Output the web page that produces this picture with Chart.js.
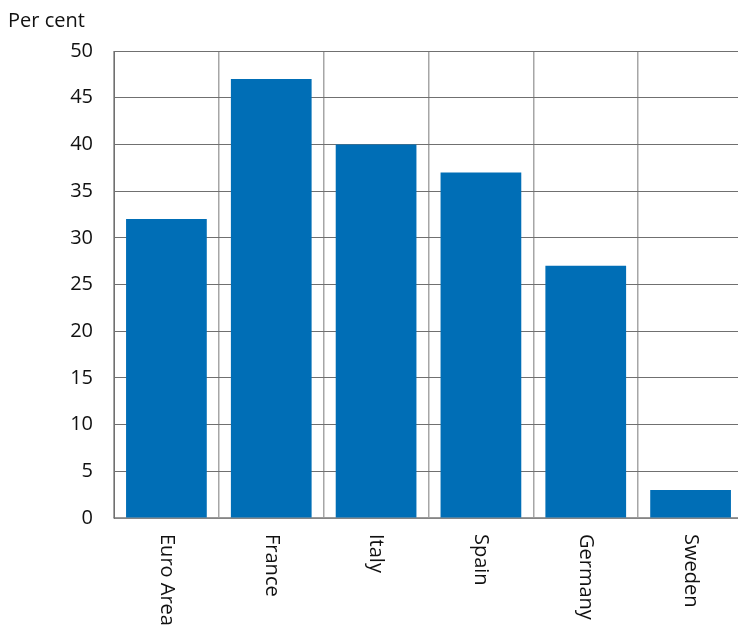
<!DOCTYPE html>
<html>
<head>
<meta charset="utf-8">
<script src="https://cdn.jsdelivr.net/npm/chart.js@4/dist/chart.umd.min.js"></script>
<style>
html,body{margin:0;padding:0;background:#fff;overflow:hidden;}
#wrap{position:absolute;left:0;top:0;width:743px;height:628px;}
</style>
</head>
<body>
<div id="wrap"><canvas id="c"></canvas></div>
<script>
// data
const countries=['Euro Area','France','Italy','Spain','Germany','Sweden'];
const share=[32,47,40,37,27,3];
const yTicks=[0,5,10,15,20,25,30,35,40,45,50];

const FONT='"Open Sans", "Liberation Sans", sans-serif';

// x labels read top to bottom, so draw them ourselves
const vertLabels={
  id:'vertLabels',
  afterDraw(chart){
    const {ctx,scales:{x},chartArea}=chart;
    ctx.save();
    ctx.fillStyle='#111';
    ctx.font='20px '+FONT;
    ctx.textAlign='left';
    ctx.textBaseline='middle';
    countries.forEach((lab,i)=>{
      const px=x.getPixelForValue(i);
      ctx.save();
      ctx.translate(px,chartArea.bottom+16);
      ctx.rotate(Math.PI/2);
      ctx.fillText(lab,0,0);
      ctx.restore();
    });
    // unit label
    ctx.fillText('Per cent',8,21);
    ctx.restore();
  }
};

new Chart(document.getElementById('c'),{
  type:'bar',
  data:{labels:countries,datasets:[{data:share,backgroundColor:'#006eb6',borderWidth:0,
    categoryPercentage:1,barPercentage:0.77}]},
  options:{
    responsive:true,maintainAspectRatio:false,animation:false,
    layout:{padding:{top:51,left:0,right:0,bottom:0}},
    plugins:{legend:{display:false},tooltip:{enabled:false}},
    scales:{
      x:{
        grid:{offset:true,color:'#a6a6a6',lineWidth:1.5,drawTicks:false},
        border:{color:'#999',width:1.5},
        ticks:{display:false},
        afterFit:s=>{s.height=110;}
      },
      y:{
        min:0,max:50,
        afterBuildTicks:s=>{s.ticks=yTicks.map(v=>({value:v}));},
        grid:{color:'#707070',lineWidth:1,drawTicks:false},
        border:{color:'#707070',width:1},
        ticks:{color:'#111',font:{family:FONT,size:20},padding:21},
        afterFit:s=>{s.width=114;}
      }
    }
  },
  plugins:[vertLabels]
});
</script>
</body>
</html>
